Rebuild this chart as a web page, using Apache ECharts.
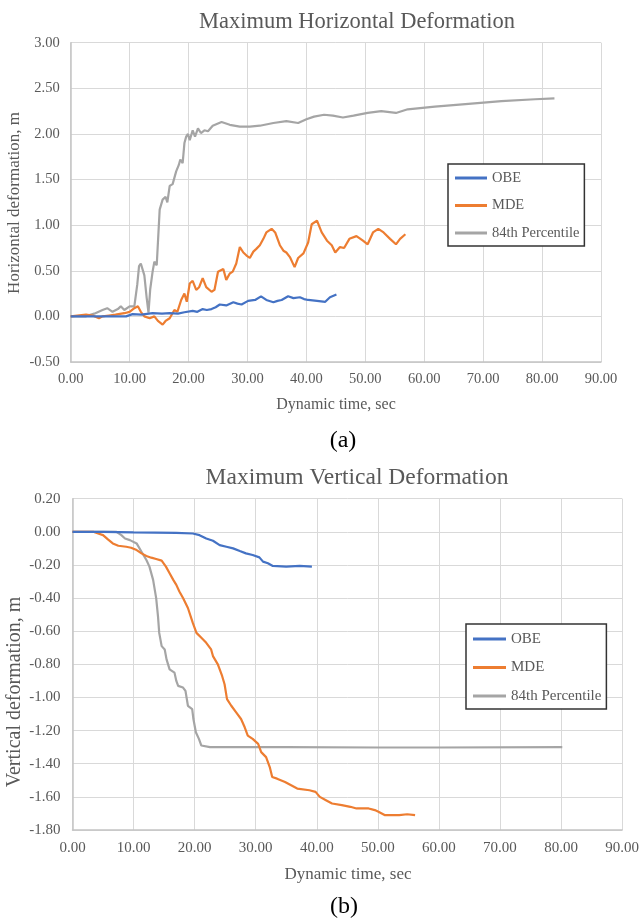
<!DOCTYPE html>
<html>
<head>
<meta charset="utf-8">
<title>Maximum Deformation</title>
<script src="https://cdn.jsdelivr.net/npm/echarts@6/dist/echarts.min.js"></script>
<style>
  html, body { margin: 0; padding: 0; background: #fff; }
  #chart { width: 642px; height: 922px; }
</style>
</head>
<body>
<div id="chart"></div>
<script>
// Time axis ticks (sec) shared by both panels
const timeTicks = [0, 10, 20, 30, 40, 50, 60, 70, 80, 90];
const seriesNames = ['OBE', 'MDE', '84th Percentile'];
const seriesColors = ['#4472C4', '#ED7D31', '#A5A5A5'];

// (a) Horizontal deformation, m  — [time sec, deformation m]
const horizOBE = [
  [0, 0], [5, 0], [9.4, 0.0], [10.5, 0.025], [12.0, 0.02], [13.9, 0.035], [15.5, 0.03], [16.8, 0.035],
  [18.2, 0.03], [19.3, 0.045], [20.7, 0.06], [21.5, 0.05], [22.4, 0.08], [23.1, 0.07], [23.9, 0.08],
  [24.6, 0.1], [25.3, 0.13], [26.4, 0.12], [27.6, 0.155], [28.3, 0.14], [29.0, 0.13], [30.1, 0.17],
  [31.3, 0.18], [32.3, 0.22], [33.2, 0.18], [34.4, 0.155], [35.1, 0.17], [35.8, 0.18], [36.9, 0.22],
  [37.8, 0.2], [38.9, 0.21], [39.6, 0.19], [40.3, 0.18], [41.8, 0.17], [43.2, 0.16], [44.0, 0.21], [45.1, 0.24]
];
const horizMDE = [
  [0, 0], [2.6, 0.02], [3.7, 0.01], [4.8, -0.02], [5.4, 0.0], [6.5, 0.01], [7.6, 0.02], [9.1, 0.035],
  [10.0, 0.05], [10.8, 0.09], [11.4, 0.11], [11.9, 0.05], [12.5, 0.0], [13.4, -0.02], [14.2, 0.0],
  [14.8, -0.05], [15.6, -0.09], [16.1, -0.05], [16.8, -0.02], [17.6, 0.07], [18.1, 0.05], [18.75, 0.18],
  [19.3, 0.25], [19.7, 0.16], [20.2, 0.36], [20.7, 0.39], [21.3, 0.29], [21.8, 0.32], [22.4, 0.42],
  [23.0, 0.32], [23.9, 0.27], [24.4, 0.29], [25.0, 0.49], [25.9, 0.52], [26.4, 0.4], [27.0, 0.47],
  [27.5, 0.49], [28.1, 0.58], [28.7, 0.76], [29.3, 0.7], [29.8, 0.67], [30.4, 0.64], [31.0, 0.71],
  [31.5, 0.74], [32.1, 0.78], [32.7, 0.85], [33.2, 0.92], [34.1, 0.96], [34.7, 0.92], [35.5, 0.78],
  [36.1, 0.72], [36.6, 0.7], [37.2, 0.65], [38.0, 0.54], [38.6, 0.64], [39.5, 0.69], [40.3, 0.81],
  [40.9, 1.01], [41.8, 1.05], [42.6, 0.92], [43.5, 0.83], [44.3, 0.78], [44.9, 0.7], [45.7, 0.76],
  [46.4, 0.75], [47.3, 0.85], [48.5, 0.88], [49.6, 0.83], [50.4, 0.79], [51.3, 0.92], [52.2, 0.96],
  [53.1, 0.92], [54.2, 0.85], [55.2, 0.79], [55.9, 0.85], [56.8, 0.9]
];
const horiz84 = [
  [0, 0], [2.5, 0.0], [4.0, 0.03], [5.4, 0.07], [6.2, 0.09], [7.1, 0.05], [8.0, 0.08], [8.5, 0.11],
  [9.1, 0.07], [10.0, 0.11], [10.8, 0.11], [11.3, 0.35], [11.6, 0.55], [11.9, 0.58], [12.5, 0.45],
  [12.9, 0.2], [13.2, 0.04], [13.5, 0.3], [13.9, 0.49], [14.2, 0.6], [14.6, 0.56], [15.1, 1.17],
  [15.6, 1.28], [16.1, 1.31], [16.4, 1.25], [16.8, 1.43], [17.3, 1.45], [17.9, 1.59], [18.35, 1.66],
  [18.6, 1.72], [19.0, 1.68], [19.3, 1.9], [19.6, 1.97], [19.9, 2.0], [20.2, 1.93], [20.7, 2.04],
  [21.1, 1.97], [21.6, 2.06], [22.1, 2.01], [22.7, 2.04], [23.3, 2.03], [24.1, 2.09], [25.6, 2.13],
  [27.0, 2.1], [28.7, 2.08], [30.4, 2.08], [32.1, 2.09], [34.4, 2.12], [36.6, 2.14], [38.6, 2.12],
  [40.0, 2.16], [41.3, 2.19], [43.0, 2.21], [44.5, 2.2], [46.2, 2.18], [48.0, 2.2], [50.4, 2.23],
  [52.7, 2.25], [55.2, 2.23], [57.2, 2.27], [61.8, 2.3], [67.5, 2.33], [73.1, 2.36], [78.8, 2.38], [82.1, 2.39]
];

// (b) Vertical deformation, m  — [time sec, deformation m]
const vertOBE = [
  [0, 0], [5, 0], [10, -0.003], [17, -0.006], [19.7, -0.01], [20.8, -0.02], [21.9, -0.04], [23.0, -0.054],
  [24.1, -0.08], [25.2, -0.09], [26.3, -0.1], [27.4, -0.116], [28.4, -0.13], [29.5, -0.14], [30.6, -0.154],
  [31.2, -0.18], [32.0, -0.19], [32.8, -0.206], [35.0, -0.21], [37.2, -0.206], [39.2, -0.21]
];
const vertMDE = [
  [0, 0], [3.4, 0], [4.2, -0.01], [5.0, -0.02], [5.8, -0.046], [6.6, -0.07], [7.5, -0.084], [8.8, -0.09],
  [9.6, -0.096], [10.5, -0.11], [11.3, -0.13], [12.1, -0.146], [12.9, -0.156], [13.7, -0.164], [14.6, -0.174],
  [15.3, -0.21], [15.9, -0.25], [16.5, -0.29], [17.0, -0.32], [17.5, -0.36], [18.1, -0.4], [18.9, -0.46],
  [19.7, -0.55], [20.3, -0.61], [21.1, -0.64], [21.9, -0.67], [22.7, -0.71], [23.0, -0.75], [23.8, -0.8],
  [24.5, -0.87], [24.9, -0.92], [25.3, -1.01], [26.0, -1.05], [26.8, -1.09], [27.6, -1.13], [28.2, -1.18],
  [28.7, -1.23], [29.5, -1.25], [30.4, -1.28], [30.9, -1.33], [31.7, -1.36], [32.3, -1.42], [32.7, -1.48],
  [33.5, -1.49], [34.8, -1.51], [35.8, -1.53], [36.8, -1.55], [38.8, -1.56], [39.8, -1.57], [40.5, -1.6],
  [41.5, -1.62], [42.5, -1.64], [44.1, -1.65], [45.5, -1.66], [46.5, -1.67], [48.5, -1.67], [49.5, -1.68],
  [50.1, -1.69], [51.1, -1.71], [53.5, -1.71], [54.8, -1.705], [56.1, -1.71]
];
const vert84 = [
  [0, 0], [7.2, 0], [8.0, -0.02], [8.6, -0.04], [9.4, -0.05], [10.5, -0.07], [11.3, -0.12], [12.1, -0.17],
  [12.6, -0.21], [13.2, -0.29], [13.7, -0.4], [14.0, -0.51], [14.2, -0.61], [14.6, -0.69], [15.1, -0.71],
  [15.4, -0.77], [15.9, -0.83], [16.7, -0.85], [17.0, -0.9], [17.3, -0.93], [18.1, -0.94], [18.5, -0.96],
  [18.9, -1.05], [19.6, -1.07], [19.8, -1.13], [20.2, -1.21], [20.7, -1.25], [21.1, -1.29], [22.5, -1.3],
  [35.0, -1.3], [50.0, -1.302], [60.0, -1.302], [80.2, -1.3]
];

const serif = 'Liberation Serif, Times New Roman, serif';
const textGray = '#595959';
const gridGray = '#d9d9d9';

function xAxisFor(gridIndex, fontSize, margin) {
  return {
    gridIndex, type: 'value',
    min: timeTicks[0], max: timeTicks[timeTicks.length - 1], interval: timeTicks[1] - timeTicks[0],
    axisLine: { onZero: false, lineStyle: { color: '#c4c4c4', width: 1.5 } },
    axisTick: { show: false },
    axisLabel: { color: textGray, fontFamily: serif, fontSize, margin, formatter: v => v.toFixed(2) },
    splitLine: { show: true, lineStyle: { color: gridGray, width: 1 } }
  };
}
function yAxisFor(gridIndex, min, max, interval, fontSize, margin) {
  return {
    gridIndex, type: 'value', min, max, interval,
    axisLine: { show: true, lineStyle: { color: '#c4c4c4', width: 1.5 } },
    axisTick: { show: false },
    axisLabel: { color: textGray, fontFamily: serif, fontSize, margin, formatter: v => v.toFixed(2) },
    splitLine: { show: true, lineStyle: { color: gridGray, width: 1 } }
  };
}
function lineSeries(name, data, idx, panel) {
  return {
    name, type: 'line', data, xAxisIndex: panel, yAxisIndex: panel,
    showSymbol: false, symbol: 'none',
    lineStyle: { color: seriesColors[idx], width: 2.2 },
    itemStyle: { color: seriesColors[idx] },
    z: 3 + (2 - idx)
  };
}
function legendFor(left, top, fontSize, itemWidth, itemGap, padding) {
  return {
    orient: 'vertical', left, top, data: seriesNames, selectedMode: false,
    icon: 'rect', itemWidth, itemHeight: 3, itemGap, padding,
    backgroundColor: '#fff', borderColor: '#333', borderWidth: 1.5,
    textStyle: { color: textGray, fontFamily: serif, fontSize }
  };
}
function label(text, x, y, fontSize, fill, rotation) {
  return {
    type: 'text', x, y, z: 10, rotation: rotation || 0,
    style: { text, fontFamily: serif, fontSize, fill, align: 'center', verticalAlign: 'middle' }
  };
}

const chart = echarts.init(document.getElementById('chart'), null, { renderer: 'canvas' });
chart.setOption({
  animation: false,
  backgroundColor: '#fff',
  grid: [
    { left: 70.7, top: 42.7, width: 530.3, height: 319.3 },
    { left: 72.5, top: 498.7, width: 551.1, height: 331.3 }
  ],
  xAxis: [xAxisFor(0, 14.5, 10), xAxisFor(1, 15, 11)],
  yAxis: [yAxisFor(0, -0.5, 3, 0.5, 14.5, 11), yAxisFor(1, -1.8, 0.2, 0.2, 15, 12)],
  legend: [
    legendFor(448, 164, 14.5, 32, 12.5, [6.5, 5, 5.5, 7]),
    legendFor(466, 624, 15, 33, 13.5, [7.5, 5, 5.5, 7])
  ],
  series: [
    lineSeries('OBE', horizOBE, 0, 0),
    lineSeries('MDE', horizMDE, 1, 0),
    lineSeries('84th Percentile', horiz84, 2, 0),
    lineSeries('OBE', vertOBE, 0, 1),
    lineSeries('MDE', vertMDE, 1, 1),
    lineSeries('84th Percentile', vert84, 2, 1)
  ],
  graphic: [
    label('Maximum Horizontal Deformation', 357, 22, 22.5, textGray),
    label('Dynamic time, sec', 336, 405, 16, textGray),
    label('Horizontal deformation, m', 15, 203, 17, textGray, Math.PI / 2),
    label('(a)', 343, 441, 24, '#000'),
    label('Maximum Vertical Deformation', 357, 478, 23.5, textGray),
    label('Dynamic time, sec', 348, 875, 17, textGray),
    label('Vertical deformation, m', 15, 692, 20, textGray, Math.PI / 2),
    label('(b)', 344, 907, 24, '#000')
  ]
});
</script>
</body>
</html>
